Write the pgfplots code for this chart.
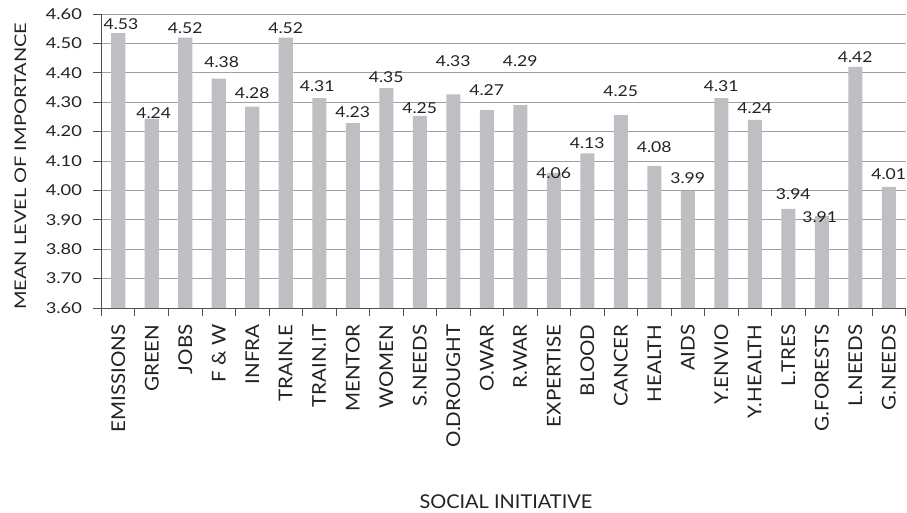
\documentclass[border=0pt]{standalone}
\usepackage{fontspec}
\setmainfont{Lato}
\usepackage{graphicx}
\usepackage{pgfplots}
\pgfplotsset{compat=1.18}
\definecolor{barc}{HTML}{BEBFC3}
\definecolor{gridc}{HTML}{A0A0A0}
\definecolor{axc}{HTML}{505050}
\definecolor{txt}{HTML}{222222}
\newcommand{\sx}[2]{\scalebox{#1}[1]{#2}}
\pgfplotstableread{
x y
0 4.535
1 4.243
2 4.52
3 4.38
4 4.285
5 4.52
6 4.314
7 4.229
8 4.348
9 4.253
10 4.327
11 4.273
12 4.29
13 4.06
14 4.126
15 4.256
16 4.083
17 3.998
18 4.314
19 4.24
20 3.937
21 3.913
22 4.42
23 4.012
}\datatable
\begin{document}
\begin{tikzpicture}
\begin{axis}[name=ax, scale only axis, width=804pt, height=294pt,
  xmin=-0.5, xmax=23.5, ymin=3.6, ymax=4.6,
  axis lines*=left,
  axis line style={axc, line width=1pt},
  ytick={3.6,3.7,3.8,3.9,4.0,4.1,4.2,4.3,4.4,4.5,4.6},
  /pgf/number format/assume math mode=true,
  yticklabel={\sx{1.22}{\pgfmathprintnumber[fixed,fixed zerofill,precision=2]{\tick}}},
  yticklabel style={font=\fontsize{15}{15}\selectfont, text=txt, xshift=-8pt},
  ymajorgrids, grid style={gridc, line width=1pt},
  tick align=outside,
  major tick length=8pt,
  minor tick length=8pt,
  ytick style={axc, line width=1pt},
  xtick={0,...,23},
  xticklabels={\sx{1.08}{EMISSIONS},\sx{1.08}{GREEN},\sx{1.08}{JOBS},\sx{1.08}{F \& W},\sx{1.08}{INFRA},\sx{1.08}{TRAIN.E},\sx{1.08}{TRAIN.IT},\sx{1.08}{MENTOR},\sx{1.08}{WOMEN},\sx{1.08}{S.NEEDS},\sx{1.08}{O.DROUGHT},\sx{1.08}{O.WAR},\sx{1.08}{R.WAR},\sx{1.08}{EXPERTISE},\sx{1.08}{BLOOD},\sx{1.08}{CANCER},\sx{1.08}{HEALTH},\sx{1.08}{AIDS},\sx{1.08}{Y.ENVIO},\sx{1.08}{Y.HEALTH},\sx{1.08}{L.TRES},\sx{1.08}{G.FORESTS},\sx{1.08}{L.NEEDS},\sx{1.08}{G.NEEDS}},
  xticklabel style={rotate=90, anchor=east, font=\fontsize{19}{19}\selectfont, text=txt, xshift=-5pt},
  major x tick style={draw=none},
  minor xtick={-0.5,0.5,...,23.5},
  minor x tick style={axc, line width=1pt},
  xlabel={\sx{1.05}{SOCIAL INITIATIVE}},
  xlabel style={at={(axis description cs:0.503,-0.66)}, anchor=center, font=\fontsize{19}{19}\selectfont, text=txt},
  ylabel={\sx{1.25}{MEAN LEVEL OF IMPORTANCE}},
  ylabel style={at={(axis description cs:-0.101,0.482)}, anchor=center, rotate=0, font=\fontsize{16}{16}\selectfont, text=txt},
  clip=false,
]
\addplot[ybar, bar width=0.418, fill=barc, draw=none] table[x=x,y=y]{\datatable};
\begin{scope}[every node/.style={font=\fontsize{15}{15}\selectfont, text=txt, inner sep=0pt}]
\node at (axis cs:0.08,4.566) {\sx{1.17}{4.53}};
\node at (axis cs:1.06,4.263) {\sx{1.17}{4.24}};
\node at (axis cs:2,4.552) {\sx{1.17}{4.52}};
\node at (axis cs:3.09,4.437) {\sx{1.17}{4.38}};
\node at (axis cs:4,4.331) {\sx{1.17}{4.28}};
\node at (axis cs:5,4.552) {\sx{1.17}{4.52}};
\node at (axis cs:5.94,4.355) {\sx{1.17}{4.31}};
\node at (axis cs:7,4.267) {\sx{1.17}{4.23}};
\node at (axis cs:8,4.386) {\sx{1.17}{4.35}};
\node at (axis cs:9,4.280) {\sx{1.17}{4.25}};
\node at (axis cs:10,4.440) {\sx{1.17}{4.33}};
\node at (axis cs:11,4.341) {\sx{1.17}{4.27}};
\node at (axis cs:12,4.440) {\sx{1.17}{4.29}};
\node at (axis cs:13,4.059) {\sx{1.17}{4.06}};
\node at (axis cs:14,4.161) {\sx{1.17}{4.13}};
\node at (axis cs:15,4.338) {\sx{1.17}{4.25}};
\node at (axis cs:16,4.148) {\sx{1.17}{4.08}};
\node at (axis cs:17,4.042) {\sx{1.17}{3.99}};
\node at (axis cs:18,4.355) {\sx{1.17}{4.31}};
\node at (axis cs:19,4.280) {\sx{1.17}{4.24}};
\node at (axis cs:20.15,3.988) {\sx{1.17}{3.94}};
\node at (axis cs:20.94,3.910) {\sx{1.17}{3.91}};
\node at (axis cs:22,4.454) {\sx{1.17}{4.42}};
\node at (axis cs:23,4.056) {\sx{1.17}{4.01}};
\end{scope}
\end{axis}
\path ([shift={(-101.5pt,-203pt)}]ax.south west) rectangle ([shift={(1.5pt,14pt)}]ax.north east);
\end{tikzpicture}
\end{document}
